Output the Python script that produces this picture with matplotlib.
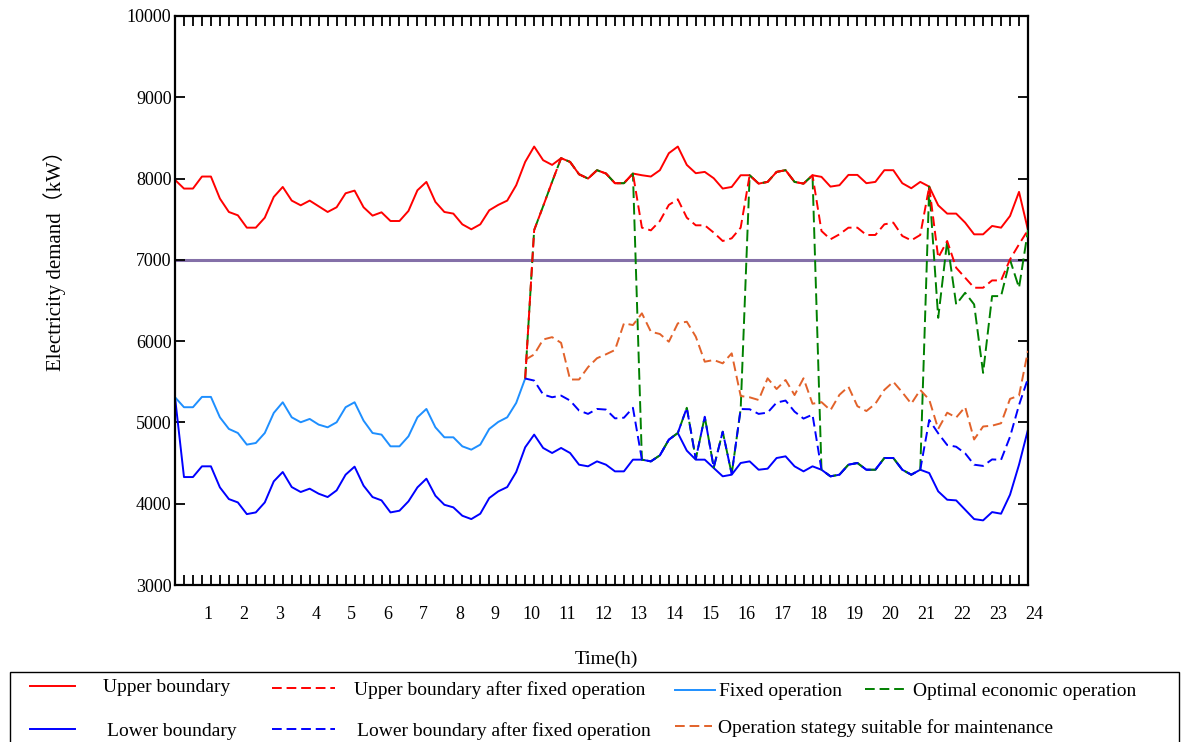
import numpy as np
import matplotlib.pyplot as plt
from matplotlib.lines import Line2D
from matplotlib.patches import Rectangle
from matplotlib.ticker import FixedLocator
from matplotlib.transforms import ScaledTranslation

plt.rcParams['font.family'] = ['Liberation Serif', 'Noto Sans CJK SC']

# 96 points, one every 15 minutes
t = np.arange(1, 97) / 4.0
hours = list(range(1, 25))
start = 39  # point where fixed operation ends

upper = [7984, 7877, 7877, 8025, 8025, 7754, 7589, 7548, 7396, 7396, 7519, 7774,
         7897, 7729, 7671, 7729, 7659, 7589, 7647, 7819, 7852, 7647, 7544, 7585,
         7478, 7478, 7602, 7856, 7959, 7713, 7589, 7569, 7437, 7376, 7437, 7610,
         7676, 7729, 7918, 8205, 8394, 8226, 8168, 8251, 8205, 8053, 8000, 8103,
         8062, 7943, 7943, 8062, 8041, 8025, 8103, 8312, 8394, 8168, 8066, 8082,
         8004, 7877, 7897, 8041, 8041, 7938, 7959, 8082, 8103, 7959, 7938, 8041,
         8021, 7901, 7918, 8045, 8045, 7943, 7959, 8103, 8103, 7943, 7881, 7959,
         7901, 7671, 7569, 7569, 7458, 7314, 7314, 7417, 7396, 7540, 7836, 7367]

lower = [5310, 4328, 4328, 4460, 4460, 4201, 4057, 4016, 3872, 3893, 4016, 4275,
         4390, 4205, 4144, 4185, 4123, 4082, 4164, 4357, 4456, 4222, 4082, 4041,
         3893, 3914, 4029, 4201, 4308, 4098, 3987, 3955, 3852, 3811, 3877, 4070,
         4152, 4205, 4390, 4694, 4850, 4686, 4624, 4686, 4624, 4480, 4460, 4521,
         4480, 4398, 4398, 4542, 4542, 4521, 4595, 4788, 4870, 4653, 4542, 4542,
         4439, 4337, 4357, 4501, 4521, 4418, 4431, 4562, 4583, 4460, 4398, 4460,
         4418, 4337, 4357, 4480, 4501, 4418, 4418, 4562, 4562, 4418, 4357, 4418,
         4377, 4152, 4049, 4041, 3926, 3811, 3795, 3897, 3877, 4111, 4480, 4912]

fixed = [5310, 5187, 5187, 5314, 5314, 5063, 4920, 4870, 4727, 4747, 4870, 5117,
         5248, 5063, 5002, 5043, 4973, 4940, 5002, 5187, 5248, 5022, 4870, 4850,
         4706, 4706, 4829, 5063, 5166, 4940, 4817, 4817, 4706, 4665, 4727, 4920,
         5006, 5063, 5240, 5540]

# from 10h onwards
upper_fixed = [5540, 7366, 7660, 7960, 8251, 8205, 8053, 8000, 8103, 8062, 7943, 7943,
               8062, 7396, 7363, 7478, 7676, 7745, 7519, 7425, 7425, 7335, 7232, 7265,
               7396, 8041, 7938, 7959, 8082, 8103, 7959, 7938, 8041, 7355, 7253, 7314,
               7396, 7396, 7306, 7306, 7437, 7458, 7294, 7240, 7306, 7901, 7027, 7232,
               6903, 6780, 6657, 6657, 6747, 6747, 7006, 7191, 7367]

lower_fixed = [5540, 5515, 5343, 5310, 5330, 5269, 5146, 5105, 5166, 5158, 5050, 5058,
               5180, 4542, 4521, 4595, 4788, 4870, 5180, 4550, 5070, 4445, 4886, 4365,
               5165, 5162, 5105, 5121, 5244, 5269, 5133, 5047, 5096, 4418, 4337, 4357,
               4480, 4501, 4418, 4418, 4562, 4562, 4418, 4357, 4418, 5030, 4866, 4722,
               4701, 4620, 4480, 4465, 4545, 4540, 4824, 5214, 5543]

optimal = [5540, 7366, 7660, 7960, 8251, 8205, 8053, 8000, 8103, 8062, 7943, 7943,
           8062, 4542, 4521, 4595, 4788, 4870, 5180, 4550, 5070, 4445, 4886, 4365,
           5165, 8041, 7938, 7959, 8082, 8103, 7959, 7938, 8041, 4418, 4337, 4357,
           4480, 4501, 4418, 4418, 4562, 4562, 4418, 4357, 4418, 7901, 6287, 7232,
           6452, 6595, 6452, 5610, 6554, 6554, 7000, 6657, 7367]

maintenance = [5770, 5836, 6020, 6049, 5979, 5528, 5528, 5680, 5790, 5838, 5891, 6219,
               6198, 6342, 6116, 6088, 5993, 6219, 6239, 6055, 5747, 5768, 5727, 5850,
               5325, 5309, 5276, 5543, 5411, 5522, 5337, 5543, 5230, 5250, 5150, 5340,
               5440, 5200, 5140, 5230, 5400, 5500, 5370, 5230, 5400, 5280, 4920, 5120,
               5060, 5190, 4790, 4950, 4960, 4990, 5290, 5330, 5880]

limit = 7000

W, H = 1181, 742
fig = plt.figure(figsize=(W / 100, H / 100), dpi=100)
ax = fig.add_axes([175 / W, 1 - 585 / H, (1028 - 175) / W, (585 - 16) / H])

c_red = '#ff0000'
c_blue = '#0000ff'
c_light = '#1e8fff'
c_green = '#008000'
c_orange = '#e2622a'
lw = 1.4
dash = (5, 2.5)

ax.axhline(limit, color='#8470a8', lw=2.2, zorder=1)
ax.plot(t, upper, color=c_red, lw=lw, zorder=2)
ax.plot(t, lower, color=c_blue, lw=lw, zorder=2)
ax.plot(t[:start + 1], fixed, color=c_light, lw=lw, zorder=2)
ax.plot(t[start:], optimal, color=c_green, lw=lw, dashes=(6, 2.5), zorder=3)
ax.plot(t[start:], maintenance, color=c_orange, lw=lw, dashes=dash, zorder=3)
ax.plot(t[start:], upper_fixed, color=c_red, lw=lw, dashes=dash, zorder=4)
ax.plot(t[start:], lower_fixed, color=c_blue, lw=lw, dashes=dash, zorder=4)

ax.set_xlim(t[0], t[-1])
ax.set_ylim(3000, 10000)
ax.set_yticks(range(3000, 10001, 1000))
ax.xaxis.set_major_locator(FixedLocator(hours))
ax.xaxis.set_minor_locator(FixedLocator(t))
ax.set_xticklabels([str(h) for h in hours])

for s in ax.spines.values():
    s.set_linewidth(1.6)
ax.tick_params(axis='x', which='both', direction='in', top=True, length=7,
               width=1.3, pad=15, labelsize=13)
ax.tick_params(axis='y', direction='in', right=True, length=7, width=1.3,
               pad=2.5, labelsize=13)
shift = ScaledTranslation(6 / 100, 0, fig.dpi_scale_trans)
for lab in ax.get_xticklabels():
    lab.set_transform(lab.get_transform() + shift)

ax.set_ylabel('Electricity demand（kW）', fontsize=15)
ax.yaxis.set_label_coords(-0.128, 0.578)
ax.set_xlabel('Time(h)', fontsize=14)
ax.xaxis.set_label_coords(0.506, -0.115)

# legend box drawn by hand to match the original layout
fig.add_artist(Rectangle((10 / W, 1 - 745 / H), (1179 - 10) / W, (745 - 672) / H,
                         transform=fig.transFigure, fill=False, lw=1.0,
                         edgecolor='black', clip_on=False))
entries = [
    ('Upper boundary', c_red, None, 30, 75, 103, 688),
    ('Upper boundary after fixed operation', c_red, dash, 272, 335, 354, 690),
    ('Fixed operation', c_light, None, 675, 715, 719, 692),
    ('Optimal economic operation', c_green, dash, 865, 905, 913, 691),
    ('Lower boundary', c_blue, None, 30, 75, 107, 731),
    ('Lower boundary after fixed operation', c_blue, dash, 272, 335, 357, 731),
    ('Operation stategy suitable for maintenance', c_orange, dash, 675, 712, 718, 728),
]
for label, col, ds, x0, x1, xt, y in entries:
    ln = Line2D([x0 / W, x1 / W], [1 - (y - 2) / H, 1 - (y - 2) / H],
                transform=fig.transFigure, color=col, lw=lw)
    if ds:
        ln.set_dashes(ds)
    fig.add_artist(ln)
    fig.text(xt / W, 1 - y / H, label, fontsize=14, va='center', ha='left')

fig.savefig('out.png', dpi=100)
